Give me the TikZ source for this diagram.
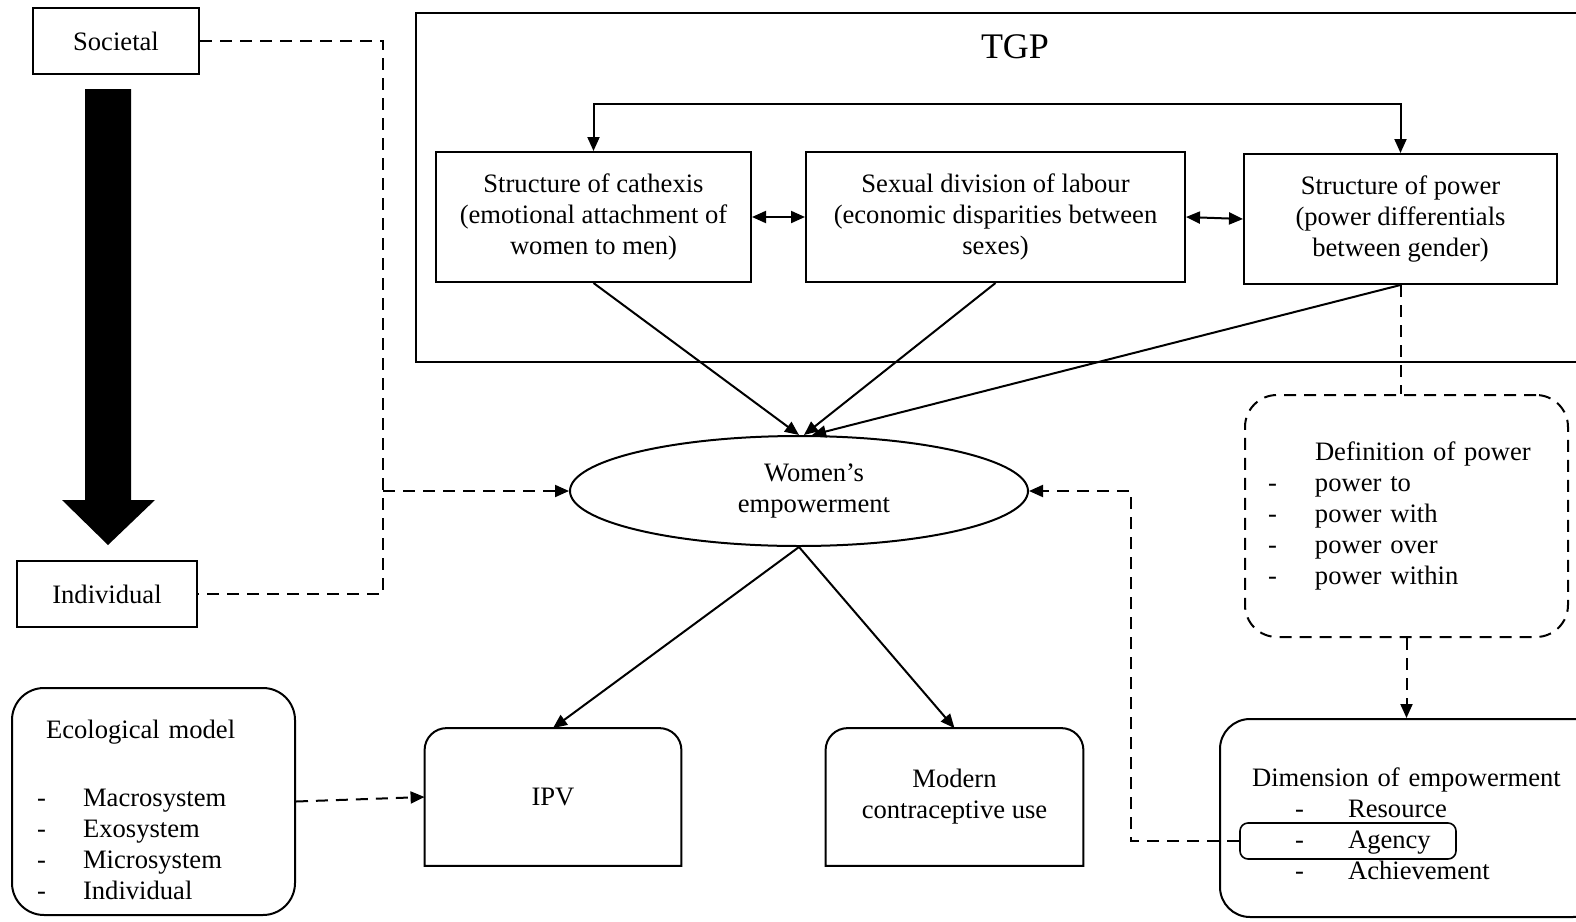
\documentclass[tikz,border=0pt]{standalone}
\usepackage{fontspec}
\setmainfont{Liberation Serif}
\usetikzlibrary{shapes.geometric, arrows.meta, positioning}

\tikzset{
  box/.style={draw, line width=1pt, align=center, inner sep=2pt},
  listbox/.style={draw, line width=1pt, align=left},
  dashline/.style={line width=1pt, dash pattern=on 6pt off 4pt},
  arr/.style={line width=1pt, -{Triangle[length=7pt,width=6pt]}},
  dbl/.style={line width=1pt, {Triangle[length=7pt,width=6pt]}-{Triangle[length=7pt,width=6pt]}},
}

% outline with rounded top corners only
\newcommand{\topround}[1]{%
  \draw[line width=1pt] (#1.south west) -- ([yshift=-11pt]#1.north west)
    arc[start angle=180, end angle=90, radius=11pt] -- ([xshift=-11pt]#1.north east)
    arc[start angle=90, end angle=0, radius=11pt] -- (#1.south east) -- cycle;}

\begin{document}
\begin{tikzpicture}[x=0.5pt, y=-0.5pt, font=\fontsize{13.3}{15.5}\selectfont]
    \useasboundingbox (0,0) rectangle (1576,922);

    % Societal to individual
    \node[box, minimum width=83pt, minimum height=33pt] (societal) at (116,41) {Societal};
    \node[box, minimum width=90pt, minimum height=33pt] (individual) at (107,594) {Individual};
    \fill (85,89) -- (131,89) -- (131,500) -- (155,500) -- (108,545) -- (62,500) -- (85,500) -- cycle;

    % TGP frame
    \draw[line width=1pt] (416,13) rectangle (1600,362);
    \node[font=\fontsize{18}{22}\selectfont] (tgp) at (1015,47) {TGP};

    % Three structures
    \node[box, minimum width=157.5pt, minimum height=65pt] (cathexis) at (593.5,217)
        {Structure of cathexis\\(emotional attachment of\\women to men)};
    \node[box, minimum width=189.5pt, minimum height=65pt] (labour) at (995.5,217)
        {Sexual division of labour\\(economic disparities between\\sexes)};
    \node[box, minimum width=156.5pt, minimum height=65pt] (power) at (1400.5,219)
        {Structure of power\\(power differentials\\between gender)};

    % Women's empowerment
    \node[draw, ellipse, line width=1pt, inner sep=0pt,
          minimum width=229pt, minimum height=55pt] (empower) at (799,491)
        {\hspace*{15pt}\raisebox{-4pt}{\begin{tabular}{@{}c@{}}Women’s\\empowerment\end{tabular}}};

    % Definition of power
    \node[listbox, dashline, rounded corners=16pt, inner xsep=11.5pt, text width=138.5pt,
          minimum height=121pt] (definition) at (1406.5,516)
        {\hspace*{23.5pt}Definition of power\\
         \makebox[23.5pt][l]{-}power to\\
         \makebox[23.5pt][l]{-}power with\\
         \makebox[23.5pt][l]{-}power over\\
         \makebox[23.5pt][l]{-}power within};

    % Dimension of empowerment
    \node[listbox, rounded corners=15pt, inner xsep=15pt, text width=161.5pt,
          minimum height=99pt] (dimension) at (1411.5,818) {};
    \node[align=left, text width=161.5pt, anchor=west] (dimtext) at (1245,824)
        {Dimension of empowerment\\
         \hspace*{21.5pt}\makebox[26.5pt][l]{-}Resource\\
         \hspace*{21.5pt}\makebox[26.5pt][l]{-}Agency\\
         \hspace*{21.5pt}\makebox[26.5pt][l]{-}Achievement};
    \node[draw, line width=0.8pt, rounded corners=4pt, minimum width=108pt,
          minimum height=18pt] (agency) at (1348,841) {};

    % Ecological model
    \node[listbox, rounded corners=16pt, inner xsep=12pt, text width=117.5pt,
          minimum height=113.5pt] (ecological) at (153.5,801.5) {};
    \node[align=left, text width=117.5pt, anchor=west] (ecotext) at (30,810)
        {\hspace*{4.5pt}Ecological model\\[18.5pt]
         \makebox[23pt][l]{-}Macrosystem\\
         \makebox[23pt][l]{-}Exosystem\\
         \makebox[23pt][l]{-}Microsystem\\
         \makebox[23pt][l]{-}Individual};

    % Outcomes
    \node[align=center, minimum width=128pt, minimum height=68.5pt] (ipv) at (553,797) {IPV};
    \node[align=center, minimum width=128.5pt, minimum height=68.5pt] (modern) at (954.5,797)
        {Modern\\contraceptive use};
    \topround{ipv}
    \topround{modern}

    % Connectors
    \coordinate (sbend) at (383,41);
    \coordinate (ibend) at (383,594);
    \coordinate (jn) at (383,491);
    \coordinate (abend) at (1131,841);
    \draw[dashline] (societal.east) -- (sbend) -- (ibend) -- (individual.east);
    \draw[dashline, arr] (jn) -- (empower.west);

    \draw[dbl] (cathexis.north) -- ++(0,-47) -| (power.north);
    \draw[dbl] (cathexis.east) -- (labour.west);
    \draw[dbl] (labour.east) -- (power.west);

    \draw[arr] (cathexis.south) -- (empower.north);
    \draw[arr] (labour.south) -- ([xshift=2.5pt]empower.north);
    \draw[arr] (power.south) -- ([xshift=6.5pt]empower.north);

    \draw[dashline] (power.south) -- (power.south |- definition.north);
    \draw[dashline, arr] (definition.south) -- (definition.south |- dimension.north);
    \draw[dashline, arr] (agency.west) -- (abend) |- (empower.east);

    \draw[arr] (empower.south) -- (ipv.north);
    \draw[arr] (empower.south) -- (modern.north);
    \draw[dashline, arr] (ecological.east) -- (ipv.west);
\end{tikzpicture}
\end{document}
